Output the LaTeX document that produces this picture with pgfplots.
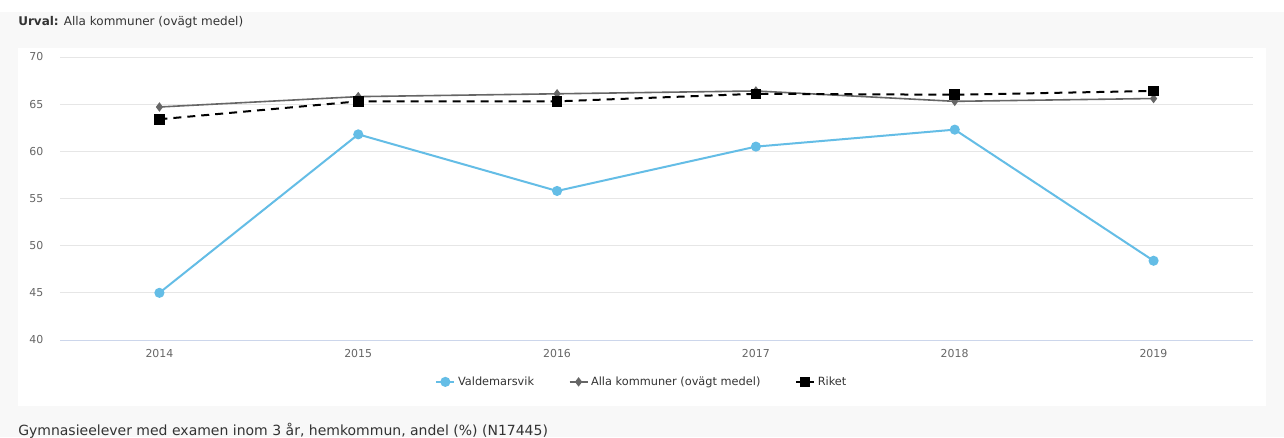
\documentclass[border=0pt]{standalone}
\usepackage{fontspec}
\setmainfont{DejaVu Sans}
\usepackage{pgfplots}
\pgfplotsset{compat=1.18}
\definecolor{bggray}{HTML}{F8F8F8}
\definecolor{gridc}{HTML}{E6E6E6}
\definecolor{axisc}{HTML}{CCD6EB}
\definecolor{valdc}{HTML}{64BDE6}
\definecolor{allac}{HTML}{666666}
\definecolor{txtc}{HTML}{333333}

\begin{document}
\begin{tikzpicture}
% canvas 1284x437 px, 1px = 0.75pt
\useasboundingbox (0,0) rectangle (963pt,327.75pt);
\fill[bggray] (0,0) rectangle (963pt,318.75pt);
\fill[white] (13.5pt,23.25pt) rectangle (949.5pt,291.75pt);
\node[anchor=west, inner sep=0pt, font=\fontsize{9}{11}\selectfont, text=txtc]
  at (13.5pt,311.25pt) {\textbf{Urval:} Alla kommuner (ovägt medel)};
\node[anchor=west, inner sep=0pt, font=\fontsize{10.5}{12}\selectfont, text=txtc]
  at (13.5pt,4.5pt) {Gymnasieelever med examen inom 3 år, hemkommun, andel (\%) (N17445)};

\begin{axis}[
  at={(45pt,72.75pt)}, anchor=south west,
  scale only axis, width=894.75pt, height=212.25pt,
  xmin=2013.5, xmax=2019.5,
  ymin=40, ymax=70,
  xtick={2014,...,2019},
  ytick={40,45,...,70},
  xticklabel style={/pgf/number format/1000 sep={}},
  /pgf/number format/assume math mode=true,
  tick label style={font=\fontsize{8.2}{10}\selectfont, text=allac},
  yticklabel style={xshift=-9pt},
  xticklabel style={yshift=-3.5pt},
  major tick length=0pt,
  axis lines*=left,
  x axis line style={draw=axisc, line width=0.75pt, -},
  y axis line style={draw=none},
  ymajorgrids,
  grid style={draw=gridc, line width=0.75pt},
  clip=false,
  legend columns=-1,
  legend style={at={(0.488,-0.148)}, anchor=center, draw=none, fill=none,
    font=\fontsize{8.5}{10}\selectfont, text=txtc,
    /tikz/every even column/.append style={column sep=24pt}},
  legend image code/.code={
    \draw[mark repeat=2,mark phase=2] plot coordinates {(0pt,0pt)(6.75pt,0pt)(13.5pt,0pt)};
  },
]
\addplot[valdc, line width=1.5pt, mark=*, mark size=3pt, mark options={solid}]
  coordinates {(2014,45.0) (2015,61.8) (2016,55.8) (2017,60.5) (2018,62.3) (2019,48.4)};
\addlegendentry{Valdemarsvik}
\addplot[allac, line width=1.2pt, mark=diamond*, mark size=2.6pt, mark options={solid}]
  coordinates {(2014,64.7) (2015,65.8) (2016,66.1) (2017,66.4) (2018,65.3) (2019,65.6)};
\addlegendentry{Alla kommuner (ovägt medel)}
\addplot[black, line width=1.5pt, dash pattern=on 6pt off 4.5pt, mark=square*, mark size=3.2pt, mark options={solid}]
  coordinates {(2014,63.4) (2015,65.3) (2016,65.3) (2017,66.1) (2018,66.0) (2019,66.4)};
\addlegendentry{Riket}
\end{axis}
\end{tikzpicture}
\end{document}
